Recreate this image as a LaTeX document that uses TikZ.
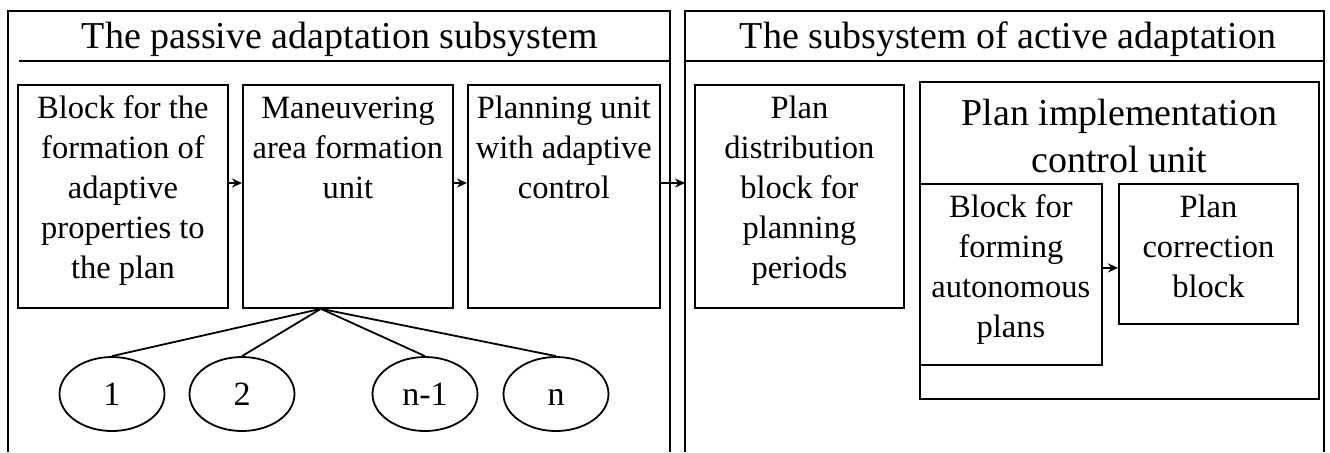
\documentclass[tikz,border=0pt]{standalone}
\usepackage{fontspec}
\setmainfont{Liberation Serif}
\usetikzlibrary{arrows.meta,shapes.geometric}
\newcommand{\blocktext}[3]{\parbox[c][#2][t]{#1}{\centering\rule{0pt}{17pt}#3}}
\tikzset{
    blockbox/.style={draw, inner sep=0pt, anchor=north west, font=\fontsize{16.25}{20}\selectfont},
    headtext/.style={anchor=base, font=\fontsize{19}{23.5}\selectfont},
    ellnode/.style={draw, ellipse, inner sep=0pt, minimum width=52.5pt, minimum height=37pt, text height=11pt, text depth=0pt, font=\fontsize{17}{20}\selectfont},
    flow/.style={-{Stealth[length=5pt,width=4.5pt]}},
}
\begin{document}
\begin{tikzpicture}[x=0.5pt, y=-0.5pt, line width=0.9pt]
    \useasboundingbox (0,0) rectangle (1330,452);
    % the two subsystems
    \draw (8,452) -- (8,11) -- (670,11) -- (670,452);
    \draw (19,61) -- (670,61);
    \draw (685,452) -- (685,11) -- (1324,11) -- (1324,452);
    \draw (685,61) -- (1324,61);
    \node[headtext] (passive) at (340,48) {The passive adaptation subsystem};
    \node[headtext] (active) at (1008,48) {The subsystem of active adaptation};

    % passive adaptation
    \node[blockbox] (props) at (17,84) {\blocktext{105pt}{111.5pt}{Block for the\\formation of\\adaptive\\properties to\\the plan}};
    \node[blockbox] (area) at (242,84) {\blocktext{105pt}{111.5pt}{Maneuvering\\area formation\\unit}};
    \node[blockbox] (planning) at (467,84) {\blocktext{96pt}{111.5pt}{Planning unit\\with adaptive\\control}};

    % active adaptation
    \node[blockbox] (distrib) at (694,84) {\blocktext{104.5pt}{111.5pt}{Plan\\distribution\\block for\\planning\\periods}};
    \node[blockbox] (implement) at (919,81) {\parbox[c][158.5pt][t]{199.5pt}{\centering\fontsize{19}{23.5}\selectfont\rule{0pt}{22pt}Plan implementation\\control unit}};
    \node[blockbox] (autonomous) at (919,183) {\blocktext{91pt}{90.5pt}{Block for\\forming\\autonomous\\plans}};
    \node[blockbox] (correction) at (1118,183) {\blocktext{89.5pt}{70pt}{Plan\\correction\\block}};

    % arrows
    \coordinate (lvl) at (0,183);
    \coordinate (activeedge) at (685,183);
    \draw[flow] (props.east |- lvl) -- (area.west |- lvl);
    \draw[flow] (area.east |- lvl) -- (planning.west |- lvl);
    \draw[flow] (planning.east |- lvl) -- (activeedge);
    \coordinate (inner) at ([yshift=3.25pt]autonomous.east);
    \draw[flow] (inner) -- (inner -| correction.west);

    % areas
    \coordinate (hub) at ([xshift=-13.5pt]area.south);
    \foreach \x/\n/\lab in {112/one/1, 242/two/2, 425/prev/n-1, 556/last/n} {
        \node[ellnode] (\n) at (\x,394) {\lab};
        \draw (hub) -- (\n.north);
    }
\end{tikzpicture}
\end{document}
